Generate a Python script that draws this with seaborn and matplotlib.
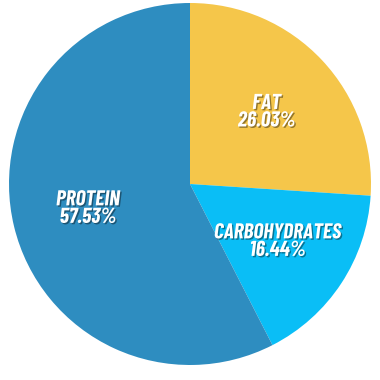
import matplotlib
matplotlib.use("Agg")
import matplotlib.pyplot as plt
import matplotlib.patheffects as pe
import seaborn as sns

sns.set_theme(style="white")

labels = ["FAT", "CARBOHYDRATES", "PROTEIN"]
values = [26.03, 16.44, 57.53]
colors = ["#F5C64A", "#0ABEF6", "#2E8DC0"]

plt.rcParams['font.family'] = ['Barlow Condensed', 'DejaVu Sans']

fig = plt.figure(figsize=(3.8, 3.8), dpi=100)
ax = fig.add_axes([0.0237, 0.0395, 0.9526, 0.9526])
palette = sns.color_palette(colors)

wedges, texts = ax.pie(values, colors=palette, startangle=90, counterclock=False,
                       labels=[f"{l}\n{v:.2f}%" for l, v in zip(labels, values)],
                       labeldistance=0.58,
                       wedgeprops=dict(linewidth=0),
                       textprops=dict(color="white", fontsize=15.5, fontweight="bold",
                                      fontstyle="italic", ha="center", va="center",
                                      linespacing=0.9))
for t in texts:
    t.set_horizontalalignment("center")
    t.set_path_effects([pe.withSimplePatchShadow(offset=(1, -1), alpha=0.4, shadow_rgbFace="black")])
ax.set_xlim(-1, 1)
ax.set_ylim(-1, 1)
ax.set_aspect("equal")
ax.axis("off")
fig.savefig("out.png", dpi=100, facecolor="white")
